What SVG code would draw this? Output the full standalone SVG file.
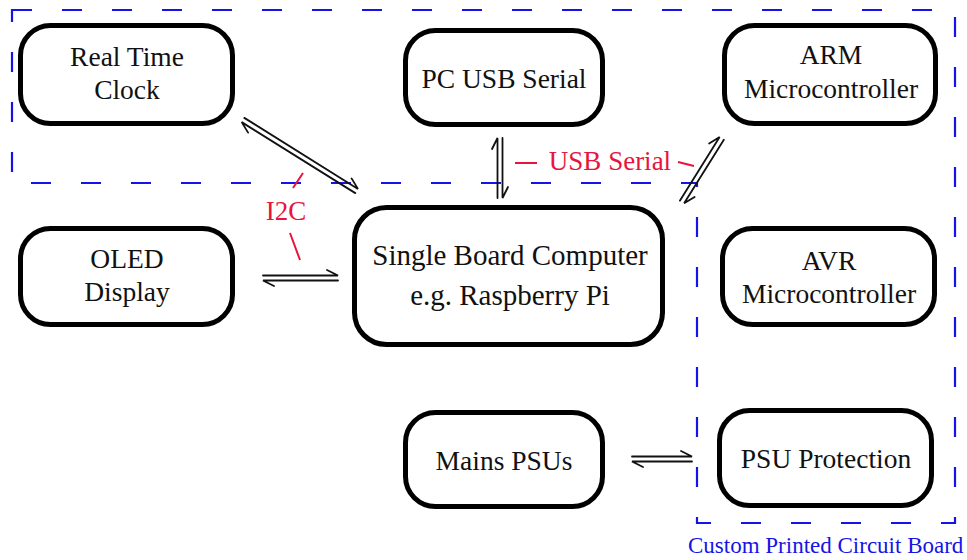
<svg xmlns="http://www.w3.org/2000/svg" width="967" height="560" viewBox="0 0 967 560">
<style>
.box{fill:none;stroke:#000;stroke-width:5}
.t{font-family:"Liberation Serif","Times New Roman",serif;font-size:27.5px;fill:#111;text-anchor:middle}
.big{font-size:29px}
.red{font-family:"Liberation Serif","Times New Roman",serif;font-size:27px;fill:#e8143c;text-anchor:middle}
.hp{fill:none;stroke:#111;stroke-width:1.8;stroke-linecap:round}
.rl{stroke:#e8143c;stroke-width:2;fill:none}
.pcb{fill:none;stroke:#1414e6;stroke-width:2.2;stroke-dasharray:20 30}
</style>
<rect width="967" height="560" fill="#fff"/>
<g id="pcb-boundary">
<path class="pcb" d="M12,10 H955 V523 H697 V183 H12 Z"/>
<text x="688" y="553" style="font-family:'Liberation Serif','Times New Roman',serif;font-size:23px;fill:#1414e6">Custom Printed Circuit Board</text>
</g>
<g id="rtc"><rect class="box" x="20.5" y="25.5" width="212" height="98" rx="30"/><text class="t" x="127" y="66">Real Time</text><text class="t" x="127" y="99">Clock</text></g>
<g id="pcusb"><rect class="box" x="405.5" y="30.5" width="197" height="94" rx="30"/><text class="t" x="504" y="88">PC USB Serial</text></g>
<g id="arm"><rect class="box" x="724.5" y="25.5" width="211" height="98" rx="30"/><text class="t" x="831" y="64">ARM</text><text class="t" x="831" y="98">Microcontroller</text></g>
<g id="oled"><rect class="box" x="20.5" y="228.5" width="212" height="96" rx="30"/><text class="t" x="127" y="268">OLED</text><text class="t" x="127" y="301">Display</text></g>
<g id="sbc"><rect class="box" x="354.5" y="207.5" width="308" height="137" rx="32"/><text class="t big" x="510" y="265">Single Board Computer</text><text class="t big" x="510" y="305">e.g. Raspberry Pi</text></g>
<g id="avr"><rect class="box" x="722.5" y="228.5" width="212" height="96" rx="30"/><text class="t" x="829" y="270">AVR</text><text class="t" x="829" y="303">Microcontroller</text></g>
<g id="mains"><rect class="box" x="405.5" y="412.5" width="197" height="94" rx="30"/><text class="t" x="504" y="470">Mains PSUs</text></g>
<g id="psuprot"><rect class="box" x="719.5" y="410.5" width="212" height="95" rx="30"/><text class="t" x="826" y="468">PSU Protection</text></g>
<g id="connectors">
<path class="hp" transform="translate(243,120) rotate(32)" d="M0,-2.5 H134 L123,-8 M134,2.5 H0 L11,8"/>
<path class="hp" transform="translate(500,198) rotate(-90)" d="M0,-2.5 H60 L49,-8 M60,2.5 H0 L11,8"/>
<path class="hp" transform="translate(682,202) rotate(-58)" d="M0,-2.5 H75 L64,-8 M75,2.5 H0 L11,8"/>
<path class="hp" transform="translate(263,278)" d="M0,-2.5 H75 L64,-8 M75,2.5 H0 L11,8"/>
<path class="hp" transform="translate(632,459)" d="M0,-2.5 H60 L49,-8 M60,2.5 H0 L11,8"/>
<path class="rl" d="M293,188 L303,173 M290,233 L300,260 M515,163 H537 M678,162 L694,166"/>
<text class="red" x="286" y="220">I2C</text>
<text class="red" x="610" y="170">USB Serial</text>
</g>
</svg>
